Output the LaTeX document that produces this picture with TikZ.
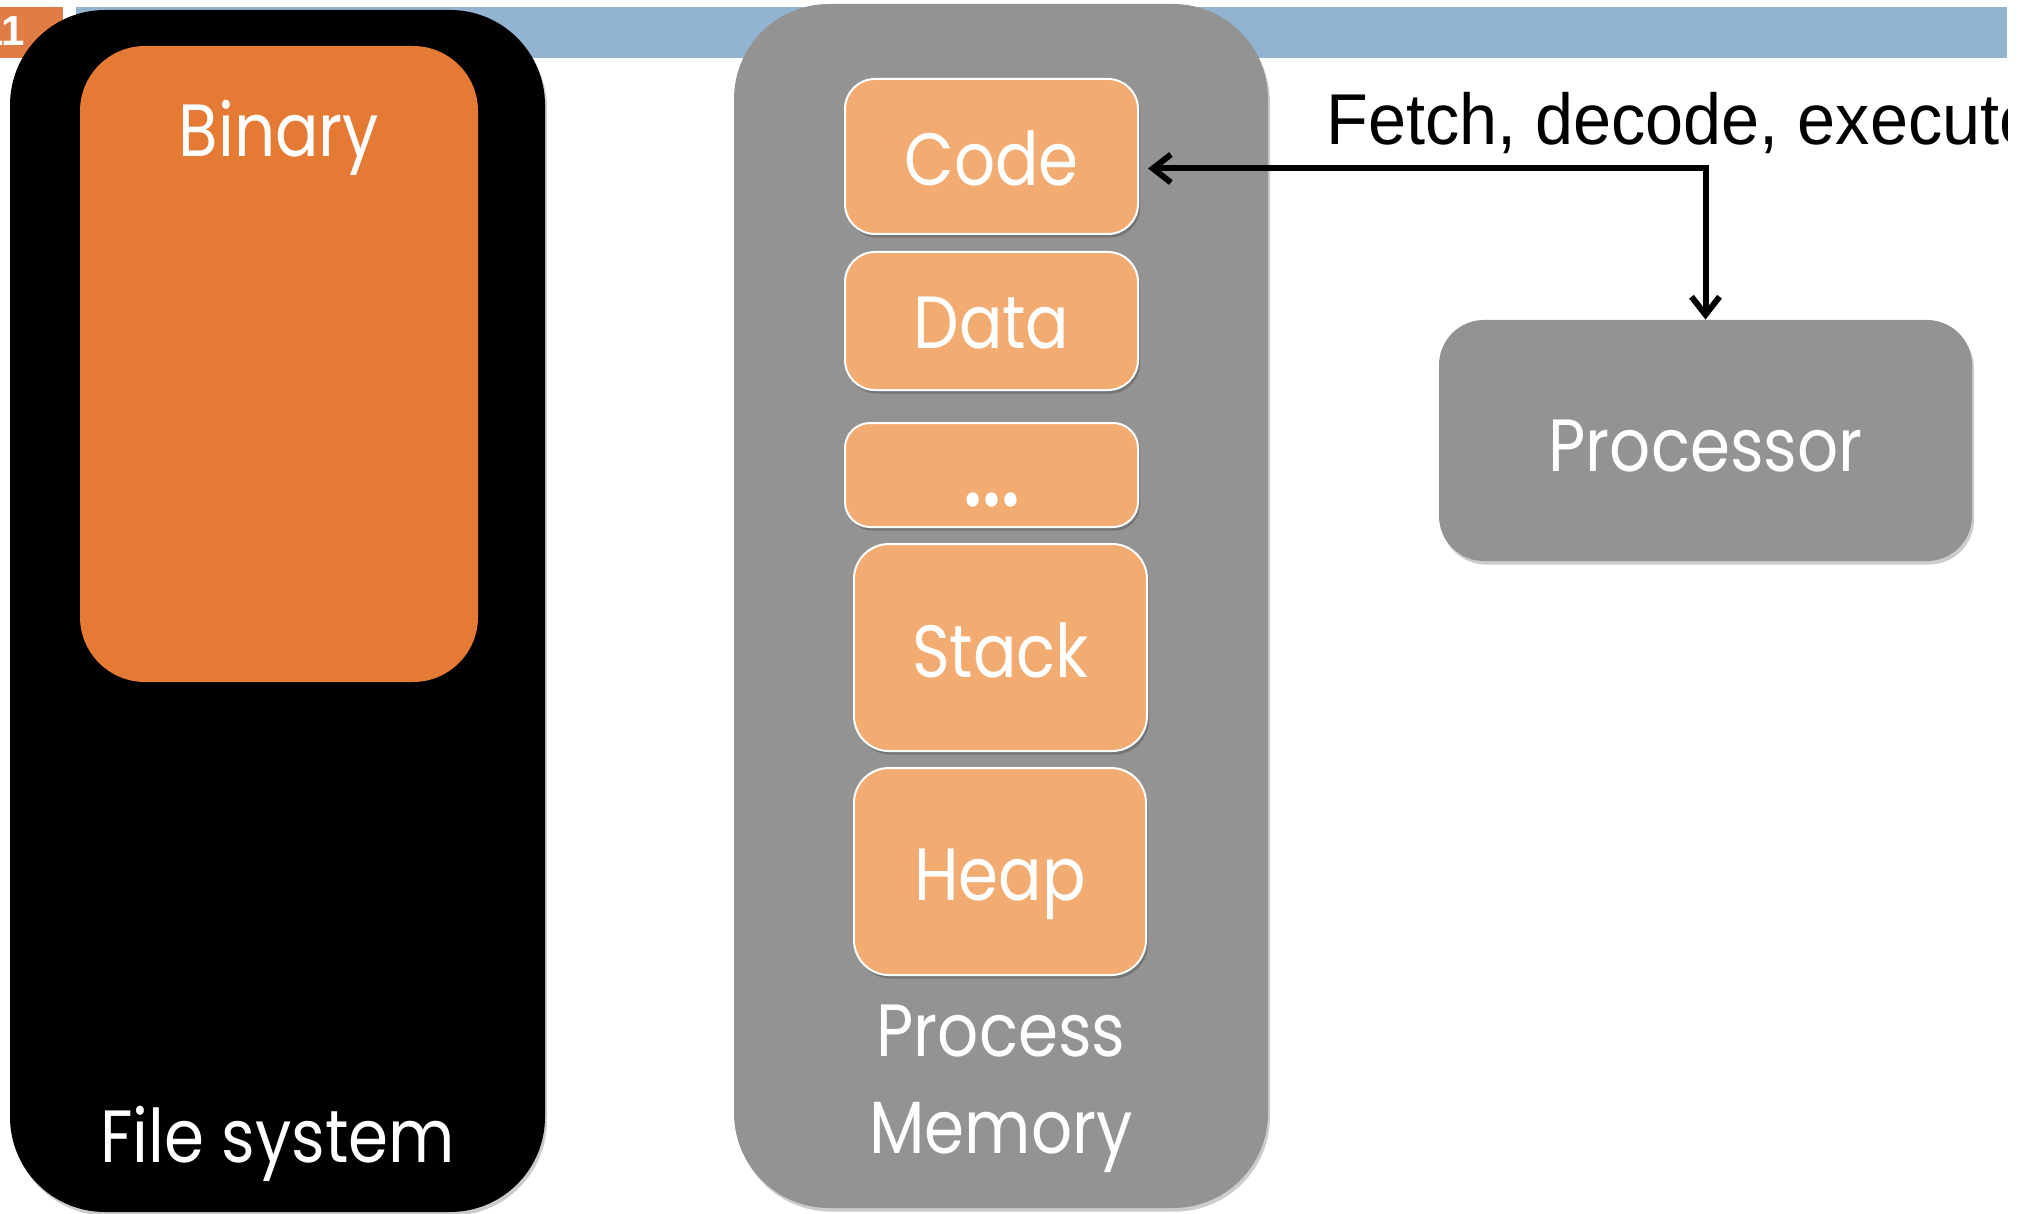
\documentclass[tikz,border=0pt]{standalone}
\usepackage{fontspec}
\usetikzlibrary{arrows.meta,shadows}
\newfontfamily\lblfont{Poppins}[FakeStretch=0.87]
\newfontfamily\fetchfont{Liberation Sans}[FakeStretch=0.95]
\newfontfamily\numfont{Liberation Sans}

\definecolor{barblue}{RGB}{147,180,209}
\definecolor{numorange}{RGB}{224,125,70}
\definecolor{binorange}{RGB}{228,122,51}
\definecolor{segorange}{RGB}{242,171,112}
\definecolor{panelgray}{RGB}{146,147,146}

\tikzset{
  x=0.5pt, y=-0.5pt,
  soft shadow/.style={drop shadow={shadow xshift=1pt, shadow yshift=-1.8pt, opacity=0.2, fill=black}},
  panel/.style={rectangle, inner sep=0pt, soft shadow},
  segment/.style={panel, fill=segorange, draw=white, line width=1pt},
  lbl/.style={text=white, font=\lblfont\fontsize{37}{40}\selectfont, inner sep=0pt, anchor=base},
  flow/.style={line width=3pt, shorten <=4.5pt,
    {Straight Barb[length=9pt,width=14pt]}-{Straight Barb[length=9pt,width=14pt]}},
}

\begin{document}
\begin{tikzpicture}
\useasboundingbox (0,0) rectangle (2024,1214);
\clip (0,0) rectangle (2007,1214);

% slide header: blue bar and page number
\fill[barblue] (76,7) rectangle (2007,58);
\fill[numorange] (0,7) rectangle (63,58);
\node[text=white, font=\numfont\bfseries\fontsize{21}{24}\selectfont, inner sep=0pt, anchor=base east] (pagenum) at (25,46) {11};

% file system with the stored binary
\node[panel, fill=black, rounded corners=47.5pt, minimum width=267.5pt, minimum height=601pt] (filesys) at (277.5,611) {};
\node[rectangle, inner sep=0pt, fill=binorange, rounded corners=32.5pt, minimum width=199pt, minimum height=318pt] (binary) at (279,364) {};
\node[lbl] (binarylbl) at (279,157) {Binary};
\node[lbl] (filesyslbl) at (277.5,1162) {File system};

% process memory and its segments
\node[panel, fill=panelgray, rounded corners=47.5pt, minimum width=267pt, minimum height=602pt] (memory) at (1001,606) {};
\node[segment, rounded corners=15pt, minimum width=146.5pt, minimum height=77.5pt] (code) at (991.5,156.5) {};
\node[segment, rounded corners=15pt, minimum width=146.5pt, minimum height=69pt] (data) at (991.5,321) {};
\node[segment, rounded corners=12.5pt, minimum width=146.5pt, minimum height=52pt] (more) at (991.5,475) {};
\node[segment, rounded corners=17.5pt, minimum width=146.5pt, minimum height=103.5pt] (stack) at (1000.5,647.5) {};
\node[segment, rounded corners=17.5pt, minimum width=146pt, minimum height=103.5pt] (heap) at (1000,871.5) {};
\node[lbl] (codelbl) at (991.5,186) {Code};
\node[lbl] (datalbl) at (991.5,349) {Data};
\node[lbl, font=\lblfont\fontsize{58}{60}\selectfont] (morelbl) at (991.5,506) {…};
\node[lbl] (stacklbl) at (1000.5,677) {Stack};
\node[lbl] (heaplbl) at (1000,900) {Heap};
\node[lbl] (memlbl1) at (1001,1056) {Process};
\node[lbl] (memlbl2) at (1001,1153) {Memory};

% processor
\node[panel, fill=panelgray, rounded corners=22.5pt, minimum width=266.5pt, minimum height=120.5pt] (proc) at (1705.5,440.5) {};
\node[lbl] (proclbl) at (1705.5,471) {Processor};

% instruction cycle
\node[font=\fetchfont\fontsize{36}{40}\selectfont, inner sep=0pt, anchor=base west] (cycle) at (1326,145) {Fetch, decode, execute};
\draw[flow] ([yshift=-6pt]code.east) -| (proc.north);
\end{tikzpicture}
\end{document}
